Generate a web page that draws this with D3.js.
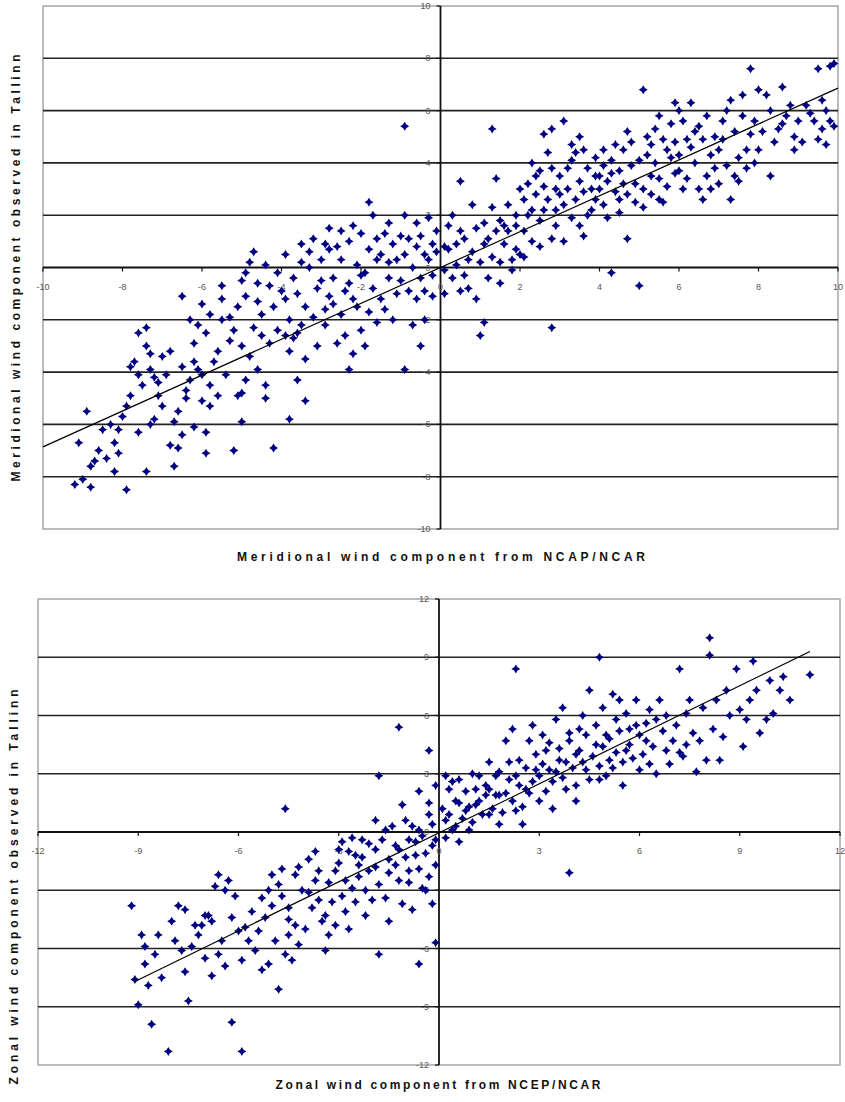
<!DOCTYPE html>
<html>
<head>
<meta charset="utf-8">
<script src="https://cdn.jsdelivr.net/npm/d3@7/dist/d3.min.js"></script>
<style>
  body { margin: 0; background: #fff; }
  svg { display: block; }
  .tick-label { font-family: "Liberation Sans", Arial, sans-serif; font-size: 9px; fill: #555; }
  .axis-title { font-family: "Liberation Sans", Arial, sans-serif; font-size: 12px; font-weight: bold; fill: #111; }
</style>
</head>
<body>
<div id="root"></div>
<script>
// ---- data ----
const merTicks = [-10, -8, -6, -4, -2, 0, 2, 4, 6, 8, 10]
const merGrid = [-8, -6, -4, -2, 2, 4, 6, 8]
const merTrend = [[-10, -6.86], [10, 6.86]]
const merPoints = [
  [-9.1,-6.7],[-8.9,-5.5],[-9.0,-8.1],[-8.8,-8.4],[-8.5,-6.2],[-8.3,-6.0],[-8.1,-6.2],[-8.7,-7.4],[-8.4,-7.3],
  [-8.2,-7.8],[-7.9,-8.5],[-8.2,-6.7],[-8.1,-7.1],[-7.8,-4.9],[-7.9,-5.3],[-7.7,-3.6],[-7.6,-4.1],[-7.4,-2.3],
  [-7.4,-3.0],[-7.3,-3.9],[-7.2,-4.2],[-7.4,-7.8],[-7.6,-6.3],[-7.3,-6.0],[-7.1,-4.4],[-7.1,-4.9],[-7.0,-5.3],
  [-6.8,-6.8],[-6.6,-6.9],[-6.7,-7.6],[-6.8,-3.2],[-6.5,-1.1],[-6.3,-2.0],[-6.6,-5.5],[-6.4,-4.7],[-6.3,-4.3],
  [-6.1,-3.9],[-6.2,-2.9],[-6.0,-4.1],[-6.0,-5.1],[-5.8,-4.5],[-5.9,-6.3],[-5.8,-5.3],[-5.5,-0.7],[-5.5,-1.2],
  [-5.3,-1.9],[-5.2,-2.4],[-5.5,-2.0],[-5.3,-2.8],[-5.0,-3.0],[-4.9,-0.2],[-4.8,0.2],[-4.9,-1.1],[-5.2,-7.0],
  [-5.0,-5.9],[-5.1,-4.9],[-5.0,-4.8],[-4.4,-5.0],[-4.2,-6.9],[-3.8,-5.8],[-4.6,-1.3],[-4.5,-1.8],[-4.3,-0.7],
  [-4.1,-0.2],[-3.9,-1.2],[-3.8,-2.0],[-3.5,0.9],[-3.5,0.2],[-3.3,0.0],[-3.7,-2.7],[-3.6,-2.5],[-3.4,-5.1],
  [-3.0,-0.5],[-2.8,-1.1],[-2.9,-1.6],[-2.8,0.7],[-2.5,1.4],[-2.3,1.0],[-2.5,0.3],[-2.7,-0.4],[-2.4,-0.9],
  [-2.2,-1.2],[-2.2,-3.3],[-2.0,-2.4],[-2.0,-0.3],[-1.8,0.7],[-1.8,2.5],[-1.5,-1.2],[-1.4,-1.6],[-1.3,1.7],
  [-1.6,0.3],[-1.1,0.3],[-0.9,5.4],[-0.9,-3.9],[-0.6,1.7],[-0.5,-3.0],[-0.6,-1.2],[-0.4,0.5],[-0.8,1.1],
  [-1.0,1.2],[-0.2,0.9],[-0.1,1.4],[-0.4,-2.0],
  [-7.6,-2.5],[-7.3,-3.3],[-7.8,-3.8],[-7.5,-4.5],[-7.0,-3.4],[-7.2,-5.8],[-8.0,-5.7],[-8.6,-7.0],[-8.8,-7.6],
  [-9.2,-8.3],[-6.9,-4.1],[-6.5,-3.8],[-6.4,-5.0],[-6.2,-3.6],[-6.7,-5.9],[-6.5,-6.4],[-6.1,-2.2],[-5.9,-2.5],
  [-6.0,-1.4],[-5.8,-1.8],[-5.6,-3.2],[-5.7,-3.6],[-5.4,-4.1],[-5.6,-4.9],[-5.9,-7.1],[-6.2,-6.1],
  [-4.7,-2.3],[-4.5,-2.6],[-4.8,-3.4],[-4.3,-2.9],[-4.6,-0.6],[-4.4,0.1],[-4.2,-1.5],[-4.0,-0.9],[-4.1,-2.4],
  [-4.9,-4.3],[-4.6,-3.9],[-4.4,-4.5],[-5.1,-1.5],[-5.0,-0.5],[-4.7,0.6],
  [-3.9,0.5],[-3.7,-0.4],[-3.6,-1.0],[-3.4,-1.5],[-3.5,-2.2],[-3.2,-1.9],[-3.1,-0.8],[-3.3,0.6],[-3.0,0.3],
  [-3.8,-3.2],[-3.4,-3.5],[-3.1,-3.0],[-3.6,-4.3],[-3.9,-2.6],[-3.2,1.1],
  [-2.9,0.9],[-2.6,0.8],[-2.7,-1.4],[-2.5,-1.8],[-2.3,-0.6],[-2.1,0.1],[-2.4,-2.6],[-2.6,-2.9],[-2.9,-2.2],
  [-2.2,1.6],[-2.0,1.3],[-2.8,1.5],[-2.1,-1.5],[-2.3,-3.9],
  [-1.9,-0.2],[-1.7,-0.8],[-1.5,0.5],[-1.3,-0.4],[-1.2,0.9],[-1.6,1.1],[-1.4,1.3],[-1.1,-1.0],[-1.8,-1.7],
  [-1.6,-2.1],[-1.2,-2.0],[-1.9,-3.0],[-1.0,-0.5],[-1.3,0.2],[-1.7,2.0],
  [-0.9,0.5],[-0.7,0.0],[-0.5,-0.4],[-0.3,0.3],[-0.2,-0.3],[-0.8,-0.9],[-0.6,0.8],[-0.3,1.9],[-0.1,0.6],
  [-0.7,-2.2],[-0.2,-1.1],[-0.9,2.0],[-0.5,1.2],[-0.4,-0.9],
  [0.1,-0.1],[0.2,0.7],[0.4,0.1],[0.5,1.4],[0.6,1.1],[0.7,0.3],[0.5,3.3],[0.9,-1.2],[1.0,-2.6],[1.3,5.3],
  [1.2,1.1],[1.5,1.8],[1.1,-2.1],[1.5,0.2],[1.6,1.6],[1.7,1.4],[1.9,0.7],[2.0,0.5],[2.1,2.6],[2.2,3.2],
  [2.5,3.7],[2.6,5.1],[2.8,5.3],[2.3,2.2],[2.4,2.8],[2.6,2.2],[2.8,1.1],[2.8,-2.3],[2.9,3.0],[3.0,3.5],
  [3.1,5.6],[3.3,4.1],[3.4,2.6],[3.5,1.6],[3.6,4.5],[3.8,2.2],[3.9,3.5],[4.0,3.0],[4.1,3.9],[4.3,-0.2],
  [4.4,4.7],[4.5,2.6],[4.6,3.2],[4.7,1.1],[5.0,-0.7],[5.1,6.8],[5.0,4.1],[5.3,3.5],[5.4,5.3],[5.5,2.6],
  [5.7,4.5],[5.9,6.3],[6.0,3.7],[6.2,4.9],[6.3,6.3],[6.5,5.4],[6.7,3.5],[6.8,3.0],[7.0,4.5],[7.2,6.0],
  [7.3,6.4],[7.5,3.3],[7.7,4.5],[7.8,7.6],[7.9,5.6],[8.0,4.5],[8.2,6.6],[8.3,3.5],[8.5,5.3],[8.7,5.8],
  [8.9,4.5],[9.2,6.2],[9.4,5.6],[9.5,7.6],[9.8,7.7],[9.5,4.9],[9.9,5.4],[9.7,6.0],
  [0.1,0.8],[0.3,-0.4],[0.2,1.6],[0.4,0.9],[0.6,-0.3],[0.8,0.6],[0.9,1.5],[0.3,2.0],[0.7,-0.8],[0.1,-1.0],
  [0.5,-0.9],[0.8,2.4],[1.0,0.2],
  [1.1,0.9],[1.3,0.4],[1.4,1.4],[1.2,-0.4],[1.6,0.9],[1.8,0.3],[1.9,1.6],[1.3,2.3],[1.7,2.4],[1.5,-0.6],
  [1.8,-0.1],[1.1,1.7],[1.4,3.4],[1.9,2.0],
  [2.1,1.4],[2.3,1.0],[2.5,1.8],[2.2,2.0],[2.7,2.6],[2.9,2.2],[2.4,3.5],[2.6,3.1],[2.8,3.8],[2.1,0.4],
  [2.5,0.8],[2.9,1.6],[2.3,4.0],[2.7,4.4],[2.0,3.0],[3.0,2.8],
  [3.1,2.4],[3.2,3.0],[3.3,1.9],[3.5,3.3],[3.6,2.9],[3.7,3.8],[3.8,3.0],[3.4,4.4],[3.9,4.2],[3.2,3.8],
  [3.6,1.2],[3.9,2.6],[3.1,1.0],[3.5,5.0],[3.7,2.0],[3.3,4.7],
  [4.0,3.5],[4.1,2.4],[4.2,3.3],[4.3,4.1],[4.4,2.9],[4.5,3.7],[4.6,4.5],[4.7,2.8],[4.8,3.9],[4.9,3.2],
  [4.2,1.9],[4.5,2.1],[4.8,4.8],[4.1,4.5],[4.9,2.5],[4.3,3.6],[4.7,5.2],
  [5.1,3.0],[5.2,4.3],[5.3,2.8],[5.4,4.0],[5.5,3.4],[5.6,4.9],[5.7,3.1],[5.8,4.2],[5.9,3.6],[5.2,5.0],
  [5.5,5.8],[5.8,5.5],[5.1,2.3],[5.6,2.5],[5.9,4.8],[5.3,4.7],
  [6.0,4.3],[6.1,5.6],[6.2,3.4],[6.3,4.6],[6.4,4.0],[6.5,3.0],[6.6,4.9],[6.7,5.8],[6.8,4.3],[6.9,3.8],
  [6.1,3.0],[6.4,5.2],[6.0,6.0],[6.6,2.6],[6.9,5.0],
  [7.1,4.9],[7.2,3.9],[7.4,5.2],[7.5,4.2],[7.6,5.8],[7.7,3.8],[7.8,5.1],[7.9,4.0],[7.3,2.6],[7.1,5.6],
  [7.6,6.6],[7.4,3.5],[7.0,3.2],
  [8.1,5.2],[8.3,6.0],[8.4,4.8],[8.6,5.5],[8.8,6.2],[8.9,5.0],[9.1,4.8],[9.3,5.9],[9.6,5.3],[9.7,4.7],
  [9.9,7.8],[9.6,6.4],[8.6,6.9],[8.0,6.8],[9.0,5.6],[9.8,5.6]
]

const zonTicks = [-12, -9, -6, -3, 0, 3, 6, 9, 12]
const zonGrid = [-9, -6, -3, 3, 6, 9]
const zonTrend = [[-9.1, -7.7], [11.1, 9.3]]
const zonPoints = [
  [-9.2,-3.8],[-9.1,-7.6],[-9.0,-8.9],[-8.9,-5.3],[-8.7,-7.9],[-8.6,-9.9],[-8.8,-6.8],[-8.4,-5.3],[-8.1,-11.3],
  [-7.9,-5.6],[-7.8,-3.8],[-7.6,-4.0],[-7.5,-8.7],[-7.3,-4.8],[-7.2,-5.3],[-7.0,-4.3],[-6.9,-4.3],[-6.8,-7.4],
  [-6.6,-6.3],[-6.6,-2.2],[-6.4,-3.0],[-6.3,-2.5],[-6.2,-9.8],[-6.0,-5.1],[-5.9,-11.3],[-5.9,-6.6],[-5.7,-5.6],
  [-5.3,-7.1],[-5.1,-3.0],[-5.0,-3.8],[-4.8,-2.7],[-4.8,-8.1],[-4.6,-6.3],[-4.6,1.2],[-4.5,-4.5],[-4.5,-5.3],
  [-4.3,-2.2],[-4.2,-5.8],[-4.0,-5.0],[-3.9,-1.4],[-3.7,-2.5],[-3.6,-3.5],[-3.4,-4.3],[-3.3,-5.3],[-3.1,-2.0],
  [-3.0,-0.9],[-2.8,-2.5],[-2.7,-5.0],[-2.5,-1.2],[-2.4,-1.7],[-2.3,-0.4],[-2.2,-3.0],[-2.1,-2.0],[-1.9,-0.9],
  [-1.8,-6.3],[-1.8,2.9],[-1.6,0.1],[-1.5,-1.4],[-1.3,-0.7],[-1.2,5.4],[-1.2,-2.5],[-1.0,0.6],[-0.9,-2.0],
  [-0.9,-0.4],[-0.7,-1.2],[-0.6,-6.8],[-0.6,0.1],[-0.4,-3.0],[-0.3,0.9],[-0.3,4.2],[-0.2,-0.7],[-0.1,-5.7],
  [-0.1,-1.7],
  [-8.8,-5.9],[-8.5,-6.3],[-8.3,-7.5],[-7.7,-6.1],[-7.4,-5.9],[-7.1,-4.8],[-6.8,-4.6],[-6.5,-5.6],[-6.2,-4.4],
  [-6.1,-3.3],[-6.4,-6.9],[-7.0,-6.5],[-7.6,-7.2],[-6.7,-2.8],[-8.0,-4.6],
  [-5.8,-4.9],[-5.6,-4.1],[-5.4,-5.1],[-5.2,-4.4],[-5.0,-2.2],[-4.9,-5.6],[-4.7,-3.3],[-4.5,-3.9],[-4.3,-4.8],
  [-4.1,-3.0],[-5.5,-6.1],[-5.1,-6.8],[-4.4,-6.6],[-4.7,-1.9],[-5.3,-3.4],[-4.2,-1.8],
  [-3.9,-3.1],[-3.8,-3.9],[-3.6,-2.0],[-3.5,-4.6],[-3.3,-2.6],[-3.2,-3.6],[-3.0,-1.6],[-2.9,-3.3],[-2.8,-4.1],
  [-2.7,-1.0],[-2.6,-2.9],[-2.5,-3.6],[-2.4,-2.3],[-2.3,-1.3],[-2.2,-4.3],[-2.1,-0.6],[-3.7,-1.0],[-3.4,-6.1],
  [-2.6,-0.3],[-2.0,-3.5],[-3.1,-4.8],[-2.9,-0.5],
  [-1.9,-1.8],[-1.8,-2.7],[-1.7,-0.4],[-1.6,-3.4],[-1.5,-2.1],[-1.4,0.3],[-1.3,-1.7],[-1.2,-0.9],[-1.1,-3.7],
  [-1.0,-1.3],[-0.9,-2.6],[-0.8,0.3],[-0.7,-0.5],[-0.6,-1.9],[-0.5,-0.2],[-0.4,-1.1],[-0.3,-2.3],[-0.2,0.4],
  [-0.1,-0.4],[-0.3,1.5],[-0.8,-4.0],[-1.5,-4.6],[-0.5,-2.9],[-1.9,0.6],[-0.2,-3.7],[-1.1,1.4],[-0.6,2.1],
  [-0.1,2.4],
  [0.2,0.6],[0.3,2.2],[0.5,1.6],[0.6,2.7],[0.8,1.1],[0.9,0.1],[1.1,2.2],[1.2,1.6],[1.4,2.4],[1.5,0.9],
  [1.7,2.9],[1.8,1.9],[2.0,4.7],[2.1,2.7],[2.3,8.4],[2.3,1.1],[2.4,3.7],[2.6,2.2],[2.7,4.7],[2.9,3.2],
  [3.0,1.6],[3.2,4.2],[3.3,3.2],[3.5,5.8],[3.6,3.7],[3.8,2.2],[3.9,-2.1],[3.9,4.7],[4.1,4.0],[4.2,5.3],
  [4.4,3.2],[4.5,7.3],[4.7,4.5],[4.8,9.0],[4.8,2.7],[5.0,5.0],[5.1,3.7],[5.3,5.8],[5.4,6.8],[5.6,4.2],
  [5.7,5.3],[5.9,6.8],[6.0,3.2],[6.2,4.7],[6.3,3.5],[6.5,5.8],[6.6,6.8],[6.8,4.2],[7.0,4.7],[7.2,8.4],
  [7.4,4.5],[7.5,6.8],[7.8,4.7],[8.0,3.7],[8.1,10.0],[8.1,9.1],[8.3,6.8],[8.4,3.7],[8.9,8.4],[9.0,6.3],
  [9.2,5.8],[9.5,7.3],[9.8,5.8],[9.9,7.8],[10.2,7.3],[10.5,6.8],[11.1,8.1],
  [0.1,1.2],[0.2,-0.3],[0.3,0.9],[0.4,2.6],[0.5,0.3],[0.6,1.5],[0.7,0.7],[0.8,2.1],[0.9,1.3],[1.0,0.5],
  [1.1,1.4],[1.2,2.9],[1.3,0.9],[1.4,1.9],[1.5,2.2],[1.6,1.2],[1.7,1.9],[1.8,3.1],[1.9,1.0],[0.2,2.9],
  [0.6,-0.5],[1.0,3.0],[1.5,3.6],[0.4,0.1],[1.8,0.4],
  [2.0,2.0],[2.1,3.6],[2.2,1.6],[2.3,2.9],[2.4,2.4],[2.5,1.3],[2.6,3.3],[2.7,2.0],[2.8,2.6],[2.9,4.0],
  [3.0,2.9],[3.1,3.5],[3.2,2.1],[3.3,4.6],[3.4,2.6],[3.5,3.1],[3.6,4.3],[3.7,2.8],[3.8,3.6],[3.9,5.1],
  [2.2,5.3],[2.8,5.5],[3.4,1.2],[3.7,6.4],[2.5,0.4],[3.1,5.0],
  [4.0,3.3],[4.1,2.4],[4.2,4.2],[4.3,3.6],[4.4,5.0],[4.5,2.7],[4.6,3.9],[4.7,5.5],[4.8,3.4],[4.9,4.4],
  [5.0,2.9],[5.1,4.8],[5.2,3.3],[5.3,4.1],[5.4,5.2],[5.5,3.6],[5.6,6.1],[5.7,4.5],[5.8,3.8],[5.9,5.5],
  [4.3,6.0],[4.9,6.4],[5.5,2.4],[4.1,1.6],[5.2,7.1],
  [6.1,4.0],[6.2,5.6],[6.4,4.4],[6.5,3.0],[6.7,5.2],[6.9,3.5],[7.1,5.5],[7.3,3.9],[7.4,6.1],[7.6,5.1],
  [7.7,3.1],[7.9,6.4],[6.3,6.3],[6.8,6.0],[7.2,4.1],[6.0,5.0],
  [8.2,5.3],[8.5,4.9],[8.7,6.0],[9.1,4.4],[9.3,6.8],[9.6,5.1],[10.0,6.1],[10.3,8.0],[8.6,7.3],[9.4,8.8]
]

// 4 pointed marker like the excel one
const marker = "M0,-4.5L1.7,-1.7L4.5,0L1.7,1.7L0,4.5L-1.7,1.7L-4.5,0L-1.7,-1.7Z"

const W = 845, H = 1102
const svg = d3.select("#root").append("svg")
    .attr("width", W)
    .attr("height", H)

function drawChart(opt) {
    const x = d3.scaleLinear().domain(opt.domain).range([opt.left, opt.right])
    const y = d3.scaleLinear().domain(opt.domain).range([opt.bottom, opt.top])
    const g = svg.append("g")

    // plot area border
    g.append("rect")
        .attr("x", opt.left)
        .attr("y", opt.top)
        .attr("width", opt.right - opt.left)
        .attr("height", opt.bottom - opt.top)
        .attr("fill", "white")
        .attr("stroke", "#a6a6a6")
        .attr("stroke-width", 1.5)

    // gridlines
    g.selectAll("line.grid").data(opt.grid).enter().append("line")
        .attr("class", "grid")
        .attr("x1", opt.left).attr("x2", opt.right)
        .attr("y1", d => y(d)).attr("y2", d => y(d))
        .attr("stroke", "#222")
        .attr("stroke-width", 1.6)

    // axes through the origin
    g.append("line")
        .attr("x1", opt.left).attr("x2", opt.right)
        .attr("y1", y(0)).attr("y2", y(0))
        .attr("stroke", "#111").attr("stroke-width", 1.8)
    g.append("line")
        .attr("x1", x(0)).attr("x2", x(0))
        .attr("y1", opt.top).attr("y2", opt.bottom)
        .attr("stroke", "#111").attr("stroke-width", 1.8)

    // tick marks
    g.selectAll("line.xt").data(opt.ticks).enter().append("line")
        .attr("class", "xt")
        .attr("x1", d => x(d)).attr("x2", d => x(d))
        .attr("y1", y(0)).attr("y2", y(0) + 4)
        .attr("stroke", "#111").attr("stroke-width", 1.2)
    g.selectAll("line.yt").data(opt.ticks).enter().append("line")
        .attr("class", "yt")
        .attr("x1", x(0) - 4).attr("x2", x(0))
        .attr("y1", d => y(d)).attr("y2", d => y(d))
        .attr("stroke", "#111").attr("stroke-width", 1.2)

    // tick labels
    g.selectAll("text.xl").data(opt.ticks).enter().append("text")
        .attr("class", "tick-label xl")
        .attr("x", d => x(d))
        .attr("y", y(0) + 22)
        .attr("text-anchor", "middle")
        .text(d => d)
    g.selectAll("text.yl").data(opt.ticks).enter().append("text")
        .attr("class", "tick-label yl")
        .attr("x", x(0) - 10)
        .attr("y", d => y(d) + 3)
        .attr("text-anchor", "end")
        .text(d => d)

    // points
    g.selectAll("path.pt").data(opt.points).enter().append("path")
        .attr("class", "pt")
        .attr("d", marker)
        .attr("fill", "#000080")
        .attr("transform", d => "translate(" + [x(d[0]), y(d[1])] + ")")

    // trend line
    g.append("path")
        .datum(opt.trend)
        .attr("fill", "none")
        .attr("stroke", "#000")
        .attr("stroke-width", 1.2)
        .attr("d", d3.line().x(d => x(d[0])).y(d => y(d[1])))

    // titles
    g.append("text")
        .attr("class", "axis-title")
        .attr("x", opt.xTitlePos[0]).attr("y", opt.xTitlePos[1])
        .attr("text-anchor", "middle")
        .attr("textLength", opt.xTitleLen).attr("lengthAdjust", "spacing")
        .text(opt.xTitle)
    g.append("text")
        .attr("class", "axis-title")
        .attr("text-anchor", "middle")
        .attr("transform", "translate(" + opt.yTitlePos + ") rotate(-90)")
        .attr("textLength", opt.yTitleLen).attr("lengthAdjust", "spacing")
        .text(opt.yTitle)
}

drawChart({
    domain: [-10, 10], left: 43, right: 838, top: 6, bottom: 529,
    ticks: merTicks, grid: merGrid, points: merPoints, trend: merTrend,
    xTitle: "Meridional wind component from NCAP/NCAR", xTitlePos: [441, 561], xTitleLen: 408,
    yTitle: "Meridional wind component observed in Tallinn", yTitlePos: [20, 268], yTitleLen: 427
})

drawChart({
    domain: [-12, 12], left: 38, right: 840, top: 599, bottom: 1065,
    ticks: zonTicks, grid: zonGrid, points: zonPoints, trend: zonTrend,
    xTitle: "Zonal wind component from NCEP/NCAR", xTitlePos: [438, 1089], xTitleLen: 325,
    yTitle: "Zonal wind component observed in Tallinn", yTitlePos: [18, 887], yTitleLen: 395
})
</script>
</body>
</html>
